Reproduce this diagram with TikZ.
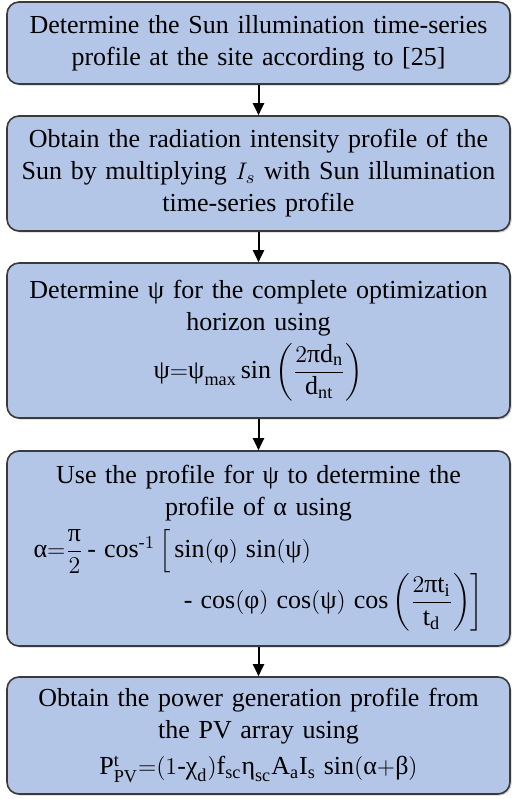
\documentclass[tikz,border=0pt]{standalone}
\usepackage{amsmath}
\usepackage{fontspec}
\setmainfont{Liberation Serif}
\usetikzlibrary{arrows.meta,shadows}
\definecolor{stagefill}{HTML}{B4C6E7}
\definecolor{stageline}{HTML}{3A3A3A}
\newcommand{\gk}[1]{\text{#1}}

\begin{document}
\begin{tikzpicture}[
		x=0.5pt, y=-0.5pt,
		every node/.style={font=\rmfamily\fontsize{13}{16}\selectfont, align=center},
		stage/.style={draw=stageline, line width=0.8pt, fill=stagefill, rounded corners=6pt,
			minimum width=251.5pt, text width=245pt, inner sep=0pt,
			drop shadow={opacity=0.35, shadow xshift=0.8pt, shadow yshift=-0.8pt}},
		flow/.style={-{Triangle[width=5.5pt,length=6pt]}, line width=1pt, black}
	]
		\useasboundingbox (0,0) rectangle (511,799);

		\node[stage, minimum height=41pt] (s1) at (258.5,43)
			{Determine the Sun illumination time-series\\ profile at the site according to [25]};
		\node[stage, minimum height=57.5pt] (s2) at (258.5,173.5)
			{Obtain the radiation intensity profile of the\\ Sun by multiplying $I_s$ with Sun illumination\\ time-series profile};
		\node[stage, minimum height=77.5pt] (s3) at (258.5,340.5)
			{Determine \gk{ψ} for the complete optimization\\ horizon using\\[3pt]
			$\gk{ψ}{=}\gk{ψ}_{\mathrm{max}}\sin\left(\dfrac{2\gk{π}\mathrm{d}_{\mathrm{n}}}{\mathrm{d}_{\mathrm{nt}}}\right)$};
		\node[stage, minimum height=97.5pt] (s4) at (258.5,548.5)
			{Use the profile for \gk{ψ} to determine the\\ profile of \gk{α} using\\[3pt]
			$\begin{array}{@{}l@{}}
				\gk{α}{=}\dfrac{\gk{π}}{2}\,\text{-}\,\cos^{\text{-}1}\left[\vphantom{\dfrac{\gk{π}}{2}}\sin(\gk{φ})\,\sin(\gk{ψ})\right.\\
				\hspace{74pt}\left.\text{-}\,\cos(\gk{φ})\,\cos(\gk{ψ})\,\cos\left(\dfrac{2\gk{π}\mathrm{t}_{\mathrm{i}}}{\mathrm{t}_{\mathrm{d}}}\right)\right]
			\end{array}$};
		\node[stage, minimum height=58.5pt] (s5) at (258.5,735.5)
			{Obtain the power generation profile from\\ the PV array using\\[2pt]
			$\mathrm{P}^{\mathrm{t}}_{\mathrm{PV}}{=}(1\text{-}\gk{χ}_{\mathrm{d}})\mathrm{f}_{\mathrm{sc}}\gk{η}_{\mathrm{sc}}\mathrm{A}_{\mathrm{a}}\mathrm{I}_{\mathrm{s}}\,\sin(\gk{α}{+}\gk{β})$};

		\draw[flow] (s1) -- (s2);
		\draw[flow] (s2) -- (s3);
		\draw[flow] (s3) -- (s4);
		\draw[flow] (s4) -- (s5);
	\end{tikzpicture}
\end{document}
